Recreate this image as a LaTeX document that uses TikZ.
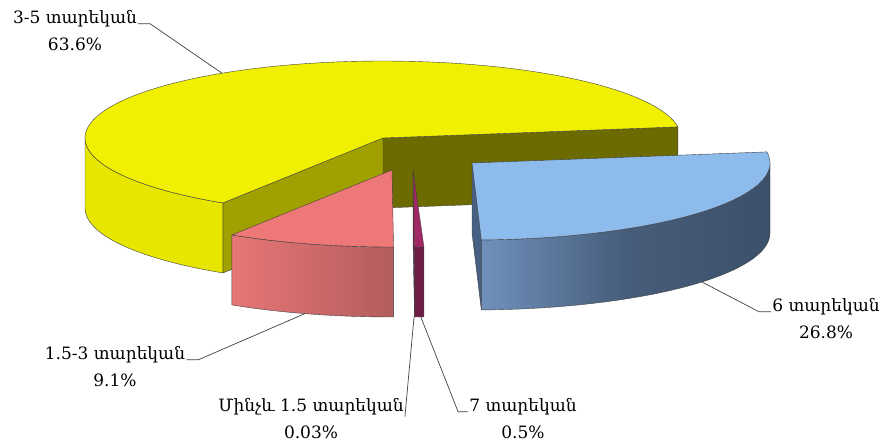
\documentclass[tikz,border=0pt]{standalone}
\usepackage{fontspec}
\setmainfont{DejaVu Serif}
\usetikzlibrary{positioning,calc}
\definecolor{topyellow}{RGB}{240,240,0}
\definecolor{wallyellow}{RGB}{230,230,0}
\definecolor{cutyellow}{RGB}{160,160,0}
\definecolor{backyellow}{RGB}{107,107,0}
\definecolor{topblue}{RGB}{141,187,235}
\definecolor{wallblueL}{RGB}{112,145,188}
\definecolor{wallblueR}{RGB}{60,80,106}
\definecolor{cutblue}{RGB}{70,95,130}
\definecolor{toppink}{RGB}{238,120,120}
\definecolor{wallpinkL}{RGB}{232,118,118}
\definecolor{wallpinkR}{RGB}{178,92,94}
\definecolor{toppurple}{RGB}{160,40,100}
\definecolor{wallpurple}{RGB}{110,30,70}

\begin{document}
\begin{tikzpicture}[x=1pt,y=-1pt,
    face/.style={draw=black!75,line width=0.4pt,line join=round},
    leader/.style={draw=black!75,line width=0.7pt},
    lbl/.style={inner sep=1pt,font=\fontsize{17}{20}\selectfont}]
\useasboundingbox (0,0) rectangle (884,444);

% 3-5 years, yellow
\coordinate (Y0) at (383,138);
\coordinate (Ya) at ({383+298*cos(8.3)},{138-77*sin(8.3)});
\coordinate (Yb) at ({383+298*cos(237.5)},{138-77*sin(237.5)});
\draw[face,fill=backyellow] (Y0) -- (Ya) -- ++(0,70) -- ($(Y0)+(0,70)$) -- cycle;
\draw[face,fill=cutyellow] (Y0) -- (Yb) -- ++(0,70) -- ($(Y0)+(0,70)$) -- cycle;
\draw[face,fill=wallyellow] plot[domain=180:237.5,samples=40,variable=\t] ({383+298*cos(\t)},{138-77*sin(\t)})
    -- plot[domain=237.5:180,samples=40,variable=\t] ({383+298*cos(\t)},{208-77*sin(\t)}) -- cycle;
\draw[face,fill=topyellow] (Y0) -- plot[domain=8.3:237.5,samples=120,variable=\t] ({383+298*cos(\t)},{138-77*sin(\t)}) -- cycle;

% 6 years, blue
\coordinate (B0) at (472,163);
\coordinate (Bb) at ({472+298*cos(271.8)},{163-77*sin(271.8)});
\draw[face,fill=cutblue] (B0) -- (Bb) -- ++(0,70) -- ($(B0)+(0,70)$) -- cycle;
\draw[face,left color=wallblueL,right color=wallblueR,middle color=wallblueR!80!wallblueL]
    plot[domain=271.8:360,samples=60,variable=\t] ({472+298*cos(\t)},{163-77*sin(\t)})
    -- plot[domain=360:271.8,samples=60,variable=\t] ({472+298*cos(\t)},{233-77*sin(\t)}) -- cycle;
\draw[face,fill=topblue] (B0) -- plot[domain=271.8:368.3,samples=80,variable=\t] ({472+298*cos(\t)},{163-77*sin(\t)}) -- cycle;

% 1.5-3 years, pink
\coordinate (P0) at (392,170);
\draw[face,left color=wallpinkL,right color=wallpinkR]
    plot[domain=237.5:270.3,samples=30,variable=\t] ({392+298*cos(\t)},{170-77*sin(\t)})
    -- plot[domain=270.3:237.5,samples=30,variable=\t] ({392+298*cos(\t)},{240-77*sin(\t)}) -- cycle;
\draw[face,fill=toppink] (P0) -- plot[domain=237.5:270.3,samples=30,variable=\t] ({392+298*cos(\t)},{170-77*sin(\t)}) -- cycle;

% 7 years, purple
\coordinate (Q0) at (413,170);
\coordinate (Qa) at ({413+298*cos(270.3)},{170-77*sin(270.3)});
\draw[face,fill=wallpurple] (Q0) -- (Qa) -- ++(0,70) -- ($(Q0)+(0,70)$) -- cycle;
\draw[face,fill=wallpurple]
    plot[domain=270.3:272.1,samples=5,variable=\t] ({413+298*cos(\t)},{170-77*sin(\t)})
    -- plot[domain=272.1:270.3,samples=5,variable=\t] ({413+298*cos(\t)},{240-77*sin(\t)}) -- cycle;
\draw[face,fill=toppurple] (Q0) -- plot[domain=270.3:272.1,samples=5,variable=\t] ({413+298*cos(\t)},{170-77*sin(\t)}) -- cycle;

% leader ends
\coordinate (t35) at ({383+298*cos(122.7)},{138-77*sin(122.7)});
\coordinate (t6) at ({472+298*cos(-39.5)},{233-77*sin(-39.5)});
\coordinate (t153) at ({392+298*cos(253)},{240-77*sin(253)});
\coordinate (t0) at ({413+298*cos(270.2)},{240-77*sin(270.2)});
\coordinate (t7) at ({413+298*cos(271.5)},{240-77*sin(271.5)});

% labels
\node[lbl] (n35) at (75,19) {3-5 տարեկան};
\node[lbl,below=8pt of n35] (p35) {63.6\%};
\node[lbl] (n6) at (826,307) {6 տարեկան};
\node[lbl,below=8pt of n6] (p6) {26.8\%};
\node[lbl] (n153) at (115,355) {1.5-3 տարեկան};
\node[lbl,below=8pt of n153] (p153) {9.1\%};
\node[lbl] (n0) at (311,407) {Մինչև 1.5 տարեկան};
\node[lbl,below=8pt of n0] (p0) {0.03\%};
\node[lbl] (n7) at (523,407) {7 տարեկան};
\node[lbl,below=8pt of n7] (p7) {0.5\%};

\draw[leader] (n35.base east) -- ++(12,0) -- (t35);
\draw[leader] (n6.base west) -- ++(-12,0) -- (t6);
\draw[leader] (n153.base east) -- ++(12,0) -- (t153);
\draw[leader] (n0.south east) -- (t0);
\draw[leader] (n7.base west) -- ++(-10,0) -- (t7);
\end{tikzpicture}
\end{document}
